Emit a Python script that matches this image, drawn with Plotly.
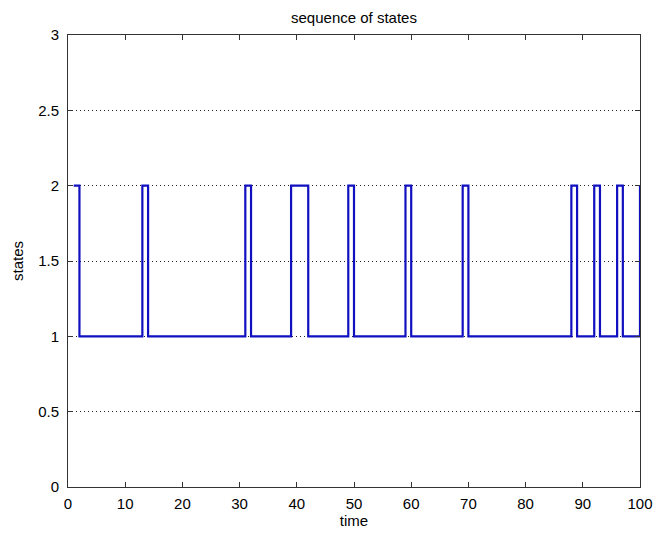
import plotly.graph_objects as go

# time steps 1..100
time = list(range(1, 101))
# state at each time step
states = [
    2, 1, 1, 1, 1, 1, 1, 1, 1, 1,   # 1-10
    1, 1, 2, 1, 1, 1, 1, 1, 1, 1,   # 11-20
    1, 1, 1, 1, 1, 1, 1, 1, 1, 1,   # 21-30
    2, 1, 1, 1, 1, 1, 1, 1, 2, 2,   # 31-40
    2, 1, 1, 1, 1, 1, 1, 1, 2, 1,   # 41-50
    1, 1, 1, 1, 1, 1, 1, 1, 2, 1,   # 51-60
    1, 1, 1, 1, 1, 1, 1, 1, 2, 1,   # 61-70
    1, 1, 1, 1, 1, 1, 1, 1, 1, 1,   # 71-80
    1, 1, 1, 1, 1, 1, 1, 2, 1, 1,   # 81-90
    1, 2, 1, 1, 1, 2, 1, 1, 1, 2,   # 91-100
]

x_ticks = [0, 10, 20, 30, 40, 50, 60, 70, 80, 90, 100]
x_tick_labels = ["0", "10", "20", "30", "40", "50", "60", "70", "80", "90", "100"]
y_ticks = [0, 0.5, 1, 1.5, 2, 2.5, 3]
y_tick_labels = ["0", "0.5", "1", "1.5", "2", "2.5", "3"]

FONT = "Liberation Sans, Arial, sans-serif"

fig = go.Figure()
fig.add_trace(go.Scatter(
    x=time, y=states, mode="lines", line_shape="hv",
    line=dict(color="#1010c0", width=2.2), showlegend=False,
))

fig.update_layout(
    width=654, height=534,
    margin=dict(l=68, r=14, t=35, b=47, autoexpand=False),
    paper_bgcolor="white", plot_bgcolor="white",
    font=dict(family=FONT, size=15, color="#000000"),
    title=dict(text="sequence of states", x=0.5, xref="paper", xanchor="center",
               y=1, yref="container", yanchor="top", pad=dict(t=12),
               font=dict(family=FONT, size=15, color="#000")),
)
fig.update_xaxes(
    range=[0, 100], tickvals=x_ticks, ticktext=x_tick_labels,
    showline=True, linecolor="#333", linewidth=1, mirror="ticks",
    ticks="inside", ticklen=5, tickcolor="#333", showgrid=False, zeroline=False,
    automargin=False, ticklabelstandoff=3, ticklabeloverflow="allow",
    title=dict(text="time", standoff=4, font=dict(size=15)),
    tickfont=dict(size=15),
)
fig.update_yaxes(
    range=[0, 3], tickvals=y_ticks, ticktext=y_tick_labels,
    showline=True, linecolor="#333", linewidth=1, mirror="ticks",
    ticks="inside", ticklen=5, tickcolor="#333",
    showgrid=True, gridcolor="#222", gridwidth=1, griddash="1px,3px",
    zeroline=False, automargin=False, ticklabelstandoff=5,
    title=dict(text="states", standoff=10, font=dict(size=15)),
    tickfont=dict(size=15),
)

# remove the default 8px page margin so the figure fills the 654x534 window
fig.write_html("out.html", config={"displayModeBar": False},
               post_script="document.body.style.margin='0px';")
